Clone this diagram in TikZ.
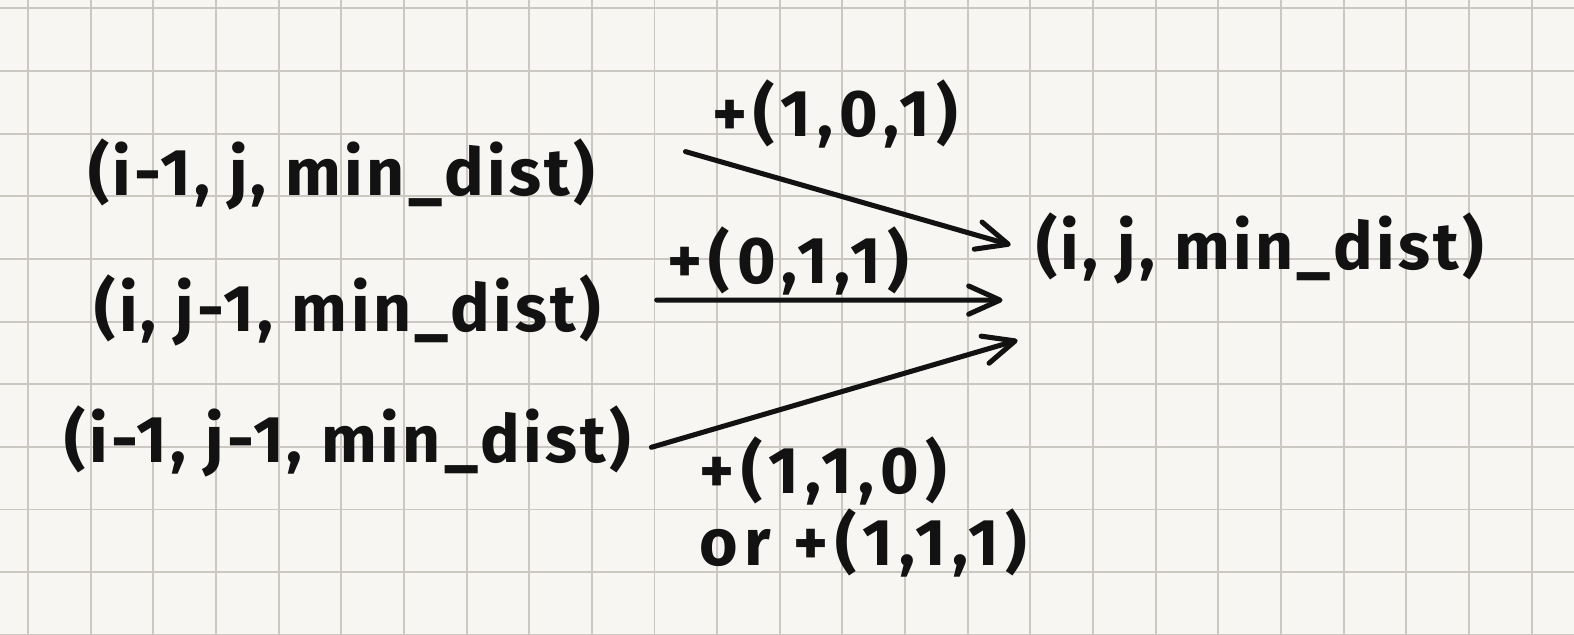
\documentclass[tikz,border=0pt]{standalone}
\usepackage{fontspec}
\setmainfont{Fira Sans}[LetterSpace=5]
\newfontfamily\costfont{Fira Sans}[LetterSpace=10]
\usepackage{tikz}
\usetikzlibrary{positioning,arrows.meta}
\usepackage{xcolor}
\definecolor{paper}{HTML}{F7F6F2}
\definecolor{gridgray}{HTML}{CBC8C1}
\definecolor{ink}{HTML}{121212}
\tikzset{
  tuple/.style={inner sep=0pt,text=ink,font=\fontsize{30}{33}\selectfont\bfseries},
  costlabel/.style={inner sep=0pt,text=ink,align=left,font=\costfont\fontsize{30}{33}\selectfont\bfseries},
  papergrid/.style={-,draw=gridgray,line width=0.9pt},
  every edge/.style={draw=ink,line width=2.3pt,line cap=round,-{Straight Barb[round,length=5mm,width=4.5mm]}},
}

\begin{document}
\begin{tikzpicture}[->,>={Straight Barb[round,length=5mm,width=4.5mm]},line cap=round]

% squared paper
\fill[paper] (0,0) rectangle (25.124,10.12);
\useasboundingbox (0,0) rectangle (25.124,10.12);
\begin{scope}
  \clip (0,0) rectangle (25.124,10.12);
  \draw[papergrid,shift={(0.447,-0.0125)}] (-1,-1) grid (26,11);
\end{scope}

\node[tuple] (a) at (5.45,7.33) {(i-1, j, min\_dist)};
\node[tuple] (b) at (5.55,5.17) {(i, j-1, min\_dist)};
\node[tuple] (c) at (5.55,3.08) {(i-1, j-1, min\_dist)};
\node[tuple] (t) at (20.11,6.16) {(i, j, min\_dist)};

\path
([xshift=1.44cm,yshift=3.7mm]a.east) edge node[costlabel,pos=0.46,above=7mm] {+(1,0,1)} ([xshift=-4mm,yshift=0.5mm]t.west)
([xshift=8.8mm,yshift=1.6mm]b.east) edge node[costlabel,pos=0.38,above=0.3mm] {+(0,1,1)} ([xshift=-5.3mm,yshift=-8.3mm]t.west)
([xshift=3.2mm,yshift=-1mm]c.east) edge node[costlabel,pos=0.125,anchor=north west] {+(1,1,0)\\or +(1,1,1)} ([xshift=-2.9mm,yshift=-14.7mm]t.west);

\end{tikzpicture}
\end{document}
